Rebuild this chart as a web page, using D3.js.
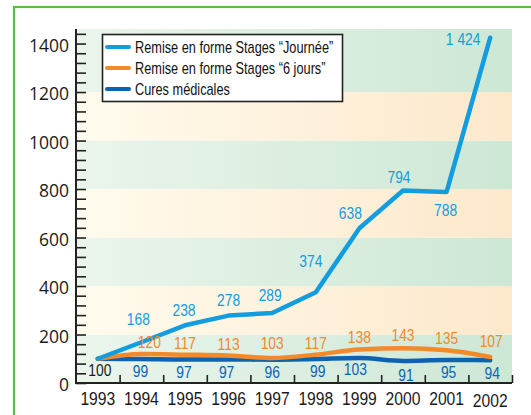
<!DOCTYPE html>
<html>
<head>
<meta charset="utf-8">
<script src="https://cdn.jsdelivr.net/npm/d3@7"></script>
<style>
  html, body { margin: 0; padding: 0; background: #fff; }
  svg { display: block; }
  .num { font-family: "Liberation Sans", Arial, sans-serif; }
  .axis { font-family: "Open Sans", "Liberation Sans", sans-serif; fill: #1a1a1a; }
</style>
</head>
<body>
<svg id="chart" width="531" height="415"></svg>
<script>
// Years shown on the horizontal axis
const years = ["1993", "1994", "1995", "1996", "1997", "1998", "1999", "2000", "2001", "2002"];

// Series values (base 100 in 1993)
const journee = [100, 168, 238, 278, 289, 374, 638, 794, 788, 1424];
const sixJours = [100, 120, 117, 113, 103, 117, 138, 143, 135, 107];
const cures = [100, 99, 97, 97, 96, 99, 103, 91, 95, 94];

// Legend entries
const seriesNames = ["Remise en forme Stages \u201CJourn\u00E9e\u201D", "Remise en forme Stages \u201C6 jours\u201D", "Cures m\u00E9dicales"];

// Vertical axis labels
const yTickLabels = [0, 200, 400, 600, 800, 1000, 1200, 1400];

// Value label nudges (dx, dy in px) so labels clear the lines
const journeeLabelShift = [null, [-3, -23], [-1, -15], [0, -16], [-2, -18], [-5, -31], [-9, -15], [-4, -13], [-1, 18], [-27, 1]];
const sixJoursLabelShift = [null, [8, -12], [0, -12], [0, -12], [0, -15], [0, -12], [0, -12], [0, -13], [0, -12], [1, -16]];
const curesLabelShift = [[2, 11], [-1, 12], [-1, 13], [-2, 13], [0, 12], [2, 12], [-4, 11], [3, 14], [2, 12], [2, 13]];

const colJournee = "#119ddf";
const colSix = "#f28a2b";
const colCures = "#0d63b0";

const svg = d3.select("#chart");
const plotLeft = 76, plotRight = 512, plotTop = 29, plotBottom = 383;

const x = d3.scaleBand().domain(years).range([plotLeft, plotRight]).padding(0);
const cx = d => x(d) + x.bandwidth() / 2;
const y = d3.scaleLinear().domain([0, 1460]).range([plotBottom, plotTop]);

// Condensed-looking text: place at (px, py) and squeeze horizontally
function squeeze(sel, px, py, sx) {
  sel.attr("x", 0).attr("y", 0)
    .attr("transform", (d, i) => `translate(${px(d, i)},${py(d, i)}) scale(${sx},1)`);
}

// Outer green frame
svg.append("rect")
  .attr("x", 14).attr("y", 7).attr("width", 560).attr("height", 460)
  .attr("fill", "none").attr("stroke", "#5cba49").attr("stroke-width", 2.2);

// Horizontal gradients for the alternating bands
const defs = svg.append("defs");
const gGreen = defs.append("linearGradient").attr("id", "bandGreen");
gGreen.append("stop").attr("offset", "0%").attr("stop-color", "#ebf5ec");
gGreen.append("stop").attr("offset", "100%").attr("stop-color", "#cde7d5");
const gOrange = defs.append("linearGradient").attr("id", "bandOrange");
gOrange.append("stop").attr("offset", "0%").attr("stop-color", "#fffbee");
gOrange.append("stop").attr("offset", "100%").attr("stop-color", "#fde8cb");

const bandEdges = [0, 200, 400, 600, 800, 1000, 1200, 1460];
svg.append("g").selectAll("rect")
  .data(d3.pairs(bandEdges))
  .join("rect")
  .attr("x", plotLeft)
  .attr("width", plotRight - plotLeft)
  .attr("y", d => y(d[1]))
  .attr("height", d => y(d[0]) - y(d[1]))
  .attr("fill", (d, i) => i % 2 === 0 ? "url(#bandGreen)" : "url(#bandOrange)");

// Y axis: minor ticks every 40, pointing into the plot
const yAxis = d3.axisRight(y)
  .tickValues(d3.range(0, 1441, 40))
  .tickSize(10)
  .tickFormat("");
const yg = svg.append("g").attr("transform", `translate(${plotLeft},0)`).call(yAxis);
yg.select(".domain").remove();
yg.selectAll(".tick line").attr("stroke", "#222").attr("stroke-width", 1.6);

svg.append("g").selectAll("text")
  .data(yTickLabels)
  .join("text")
  .attr("class", "axis")
  .attr("x", 69)
  .attr("y", d => y(d) + 2)
  .attr("dy", "0.36em")
  .attr("text-anchor", "end")
  .attr("font-size", 17.5)
  .text(d => d);

// X axis: separators between years, pointing up
const xg = svg.append("g").attr("transform", `translate(0,${plotBottom})`)
  .call(d3.axisTop(d3.scaleLinear().domain([0, years.length]).range([plotLeft, plotRight]))
    .tickValues(d3.range(1, years.length + 1))
    .tickSize(8)
    .tickFormat(""));
xg.select(".domain").remove();
xg.selectAll(".tick line").attr("stroke", "#222").attr("stroke-width", 1.6);

const yearText = svg.append("g").selectAll("text")
  .data(years)
  .join("text")
  .attr("class", "num")
  .attr("fill", "#1a1a1a")
  .attr("text-anchor", "middle")
  .attr("font-size", 18)
  .text(d => d);
squeeze(yearText, d => cx(d), (d, i) => i === years.length - 1 ? 407 : 405, 0.87);

// Axis lines
svg.append("line").attr("x1", plotLeft).attr("x2", plotLeft).attr("y1", plotTop).attr("y2", plotBottom + 1)
  .attr("stroke", "#222").attr("stroke-width", 2);
svg.append("line").attr("x1", plotLeft - 1).attr("x2", plotRight).attr("y1", plotBottom).attr("y2", plotBottom)
  .attr("stroke", "#222").attr("stroke-width", 2);

// Lines
const lineLinear = d3.line().x((d, i) => cx(years[i])).y(d => y(d));
const lineSmooth = d3.line().x((d, i) => cx(years[i])).y(d => y(d)).curve(d3.curveMonotoneX);

svg.append("path").datum(cures).attr("d", lineSmooth)
  .attr("fill", "none").attr("stroke", colCures).attr("stroke-width", 4.5)
  .attr("stroke-linejoin", "round").attr("stroke-linecap", "round");
svg.append("path").datum(sixJours).attr("d", lineSmooth)
  .attr("fill", "none").attr("stroke", colSix).attr("stroke-width", 4.5)
  .attr("stroke-linejoin", "round").attr("stroke-linecap", "round");
svg.append("path").datum(journee).attr("d", lineLinear)
  .attr("fill", "none").attr("stroke", colJournee).attr("stroke-width", 4.5)
  .attr("stroke-linejoin", "round").attr("stroke-linecap", "round");

// Value labels
function valueLabels(values, shifts, color, fmt) {
  const t = svg.append("g").selectAll("text")
    .data(values.map((v, i) => ({ v, i, s: shifts[i] })).filter(d => d.s))
    .join("text")
    .attr("class", "num")
    .attr("dy", "0.36em")
    .attr("text-anchor", "middle")
    .attr("font-size", 16.5)
    .attr("fill", d => typeof color === "function" ? color(d) : color)
    .text(d => fmt(d.v));
  squeeze(t, d => cx(years[d.i]) + d.s[0], d => y(d.v) + d.s[1], 0.84);
}
const spaced = d3.formatLocale({ decimal: ",", thousands: " ", grouping: [3], currency: ["", ""] }).format(",d");
valueLabels(journee, journeeLabelShift, colJournee, spaced);
valueLabels(sixJours, sixJoursLabelShift, colSix, spaced);
valueLabels(cures, curesLabelShift, d => d.i === 0 ? "#1a1a1a" : colCures, spaced);

// Legend
const lg = svg.append("g");
lg.append("rect").attr("x", 102.5).attr("y", 34.5).attr("width", 240).attr("height", 67)
  .attr("fill", "#fff").attr("stroke", "#222").attr("stroke-width", 1.6);
const legendColors = [colJournee, colSix, colCures];
const legendRows = [47, 68, 89];
lg.selectAll("line.key")
  .data(seriesNames)
  .join("line")
  .attr("class", "key")
  .attr("x1", 107).attr("x2", 129)
  .attr("y1", (d, i) => legendRows[i]).attr("y2", (d, i) => legendRows[i])
  .attr("stroke", (d, i) => legendColors[i]).attr("stroke-width", 4).attr("stroke-linecap", "round");
const legendText = lg.selectAll("text")
  .data(seriesNames)
  .join("text")
  .attr("class", "num")
  .attr("dy", "0.36em")
  .attr("font-size", 17)
  .attr("fill", "#111")
  .text(d => d);
squeeze(legendText, () => 135, (d, i) => legendRows[i], 0.75);
</script>
</body>
</html>
